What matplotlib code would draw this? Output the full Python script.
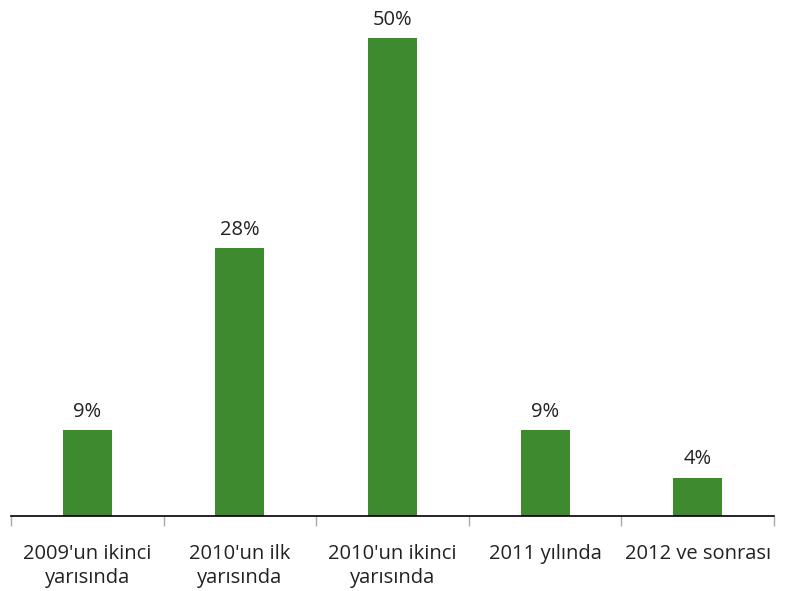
import matplotlib
matplotlib.use("Agg")
import matplotlib.pyplot as plt
import numpy as np

plt.rcParams['font.family'] = ['Open Sans', 'DejaVu Sans']

categories = ["2009'un ikinci\nyarısında", "2010'un ilk\nyarısında", "2010'un ikinci\nyarısında",
              "2011 yılında", "2012 ve sonrası"]
values = [9, 28, 50, 9, 4]
labels = ["9%", "28%", "50%", "9%", "4%"]

W, H = 785, 591
fig = plt.figure(figsize=(W / 100, H / 100), dpi=100)
ax = fig.add_axes([11 / W, (H - 516) / H, (774 - 11) / W, (516 - 10) / H])

x = np.arange(len(values))
ax.bar(x, values, width=0.32, color="#3d8a2f")
for xi, v, t in zip(x, values, labels):
    ax.annotate(t, (xi, v), xytext=(0, 6), textcoords="offset points",
                ha="center", va="bottom", fontsize=14.5, color="#222222")

ax.set_xlim(-0.5, len(values) - 0.5)
ax.set_ylim(0, 506 / 9.56)

for s in ["top", "right", "left"]:
    ax.spines[s].set_visible(False)
ax.spines["bottom"].set_color("black")
ax.spines["bottom"].set_linewidth(1.2)
ax.set_yticks([])

ax.set_xticks(np.arange(-0.5, len(values)), minor=False)
ax.set_xticklabels([])
ax.tick_params(axis="x", length=7, color="#aaaaaa", width=1)
ax.set_xticks(x, minor=True)
ax.set_xticklabels(categories, minor=True, fontsize=14.5, color="#222222", linespacing=1.25)
ax.tick_params(axis="x", which="minor", length=0, pad=20)

fig.savefig("out.png", dpi=100)
